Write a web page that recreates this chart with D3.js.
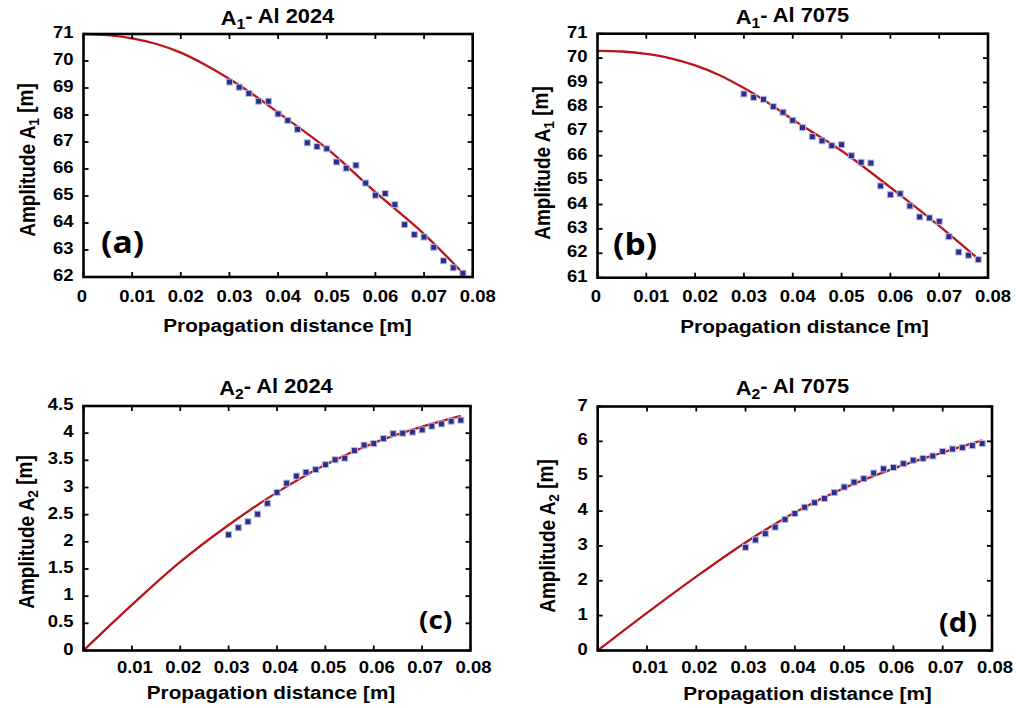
<!DOCTYPE html>
<html>
<head>
<meta charset="utf-8">
<script src="https://cdn.jsdelivr.net/npm/d3@7"></script>
<style>
  body { margin: 0; background: #fff; }
  text { font-family: "Liberation Sans", Arial, Helvetica, sans-serif; font-weight: bold; fill: #000; }
  .tag { font-family: "Open Sans", "Liberation Sans", sans-serif; font-weight: 700; }
</style>
</head>
<body>
<svg id="chart" width="1016" height="708"></svg>
<script>
// Measurement positions along the specimen (m)
const distance = [0.030, 0.032, 0.034, 0.036, 0.038, 0.040, 0.042, 0.044, 0.046, 0.048,
                  0.050, 0.052, 0.054, 0.056, 0.058, 0.060, 0.062, 0.064, 0.066, 0.068,
                  0.070, 0.072, 0.074, 0.076, 0.078];

// Measured amplitudes
const a1Al2024 = [69.22, 69.03, 68.80, 68.51, 68.51, 68.04, 67.80, 67.47, 66.97, 66.83,
                  66.75, 66.26, 66.03, 66.14, 65.48, 65.03, 65.09, 64.68, 63.94, 63.57,
                  63.48, 63.10, 62.60, 62.34, 62.14];
const a1Al7075 = [68.53, 68.39, 68.31, 68.01, 67.78, 67.45, 67.15, 66.78, 66.61, 66.41,
                  66.45, 66.00, 65.73, 65.70, 64.76, 64.40, 64.44, 63.94, 63.49, 63.45,
                  63.31, 62.68, 62.05, 61.92, 61.74];
const a2Al2024 = [2.13, 2.26, 2.37, 2.51, 2.71, 2.91, 3.08, 3.21, 3.28, 3.33,
                  3.42, 3.51, 3.54, 3.68, 3.78, 3.81, 3.90, 3.99, 4.00, 4.02,
                  4.06, 4.13, 4.17, 4.22, 4.24];
const a2Al7075 = [2.96, 3.17, 3.35, 3.54, 3.76, 3.93, 4.11, 4.24, 4.36, 4.53,
                  4.69, 4.83, 4.93, 5.09, 5.21, 5.25, 5.36, 5.46, 5.51, 5.58,
                  5.71, 5.78, 5.82, 5.88, 5.94];

// Fitted model curves
const fitA1Al2024X = [0, 0.005, 0.01, 0.015, 0.02, 0.025, 0.03, 0.035, 0.04, 0.05, 0.06, 0.07, 0.078];
const fitA1Al2024Y = [71, 70.96, 70.84, 70.63, 70.31, 69.86, 69.33, 68.74, 68.09, 66.76, 65.14, 63.59, 62.14];
const fitA1Al7075X = [0, 0.005, 0.01, 0.015, 0.02, 0.025, 0.03, 0.035, 0.04, 0.05, 0.06, 0.07, 0.078];
const fitA1Al7075Y = [70.30, 70.27, 70.17, 69.99, 69.70, 69.30, 68.77, 68.16, 67.48, 66.20, 64.70, 63.12, 61.77];
const fitA2Al2024X = [0, 0.01, 0.02, 0.03, 0.04, 0.05, 0.06, 0.07, 0.078];
const fitA2Al2024Y = [0, 0.84, 1.63, 2.31, 2.91, 3.42, 3.82, 4.12, 4.32];
const fitA2Al7075X = [0, 0.01, 0.02, 0.03, 0.04, 0.05, 0.06, 0.07, 0.078];
const fitA2Al7075Y = [0, 1.08, 2.12, 3.10, 3.96, 4.66, 5.22, 5.68, 6.03];

// Tick values and labels
const xTicks = [0, 0.01, 0.02, 0.03, 0.04, 0.05, 0.06, 0.07, 0.08];
const xTickLabelsFull = ["0", "0.01", "0.02", "0.03", "0.04", "0.05", "0.06", "0.07", "0.08"];
const xTickLabelsNoZero = ["", "0.01", "0.02", "0.03", "0.04", "0.05", "0.06", "0.07", "0.08"];
const yTicksA1Al2024 = [62, 63, 64, 65, 66, 67, 68, 69, 70, 71];
const yTicksA1Al7075 = [61, 62, 63, 64, 65, 66, 67, 68, 69, 70, 71];
const yTicksA2Al2024 = [0, 0.5, 1, 1.5, 2, 2.5, 3, 3.5, 4, 4.5];
const yTicksA2Al7075 = [0, 1, 2, 3, 4, 5, 6, 7];

const xLabel = "Propagation distance [m]";

const SX = 1.12; // horizontal stretch applied to all lettering
const svg = d3.select("#chart");

function label(parent, x, y, size, anchor, rotate) {
  return parent.append("text")
    .attr("transform", `translate(${x},${y}) scale(${SX},1)` + (rotate ? ` rotate(${rotate})` : ""))
    .attr("text-anchor", anchor)
    .style("font-size", size + "px");
}

function withSub(t, main, sub, rest) {
  t.append("tspan").text(main);
  t.append("tspan").text(sub).style("font-size", "0.72em").attr("dy", "0.28em");
  t.append("tspan").text(rest).attr("dy", "-0.28em");
}

function drawPanel(p) {
  const g = svg.append("g");
  const x = d3.scaleLinear().domain([0, 0.08]).range([p.left, p.right]);
  const y = d3.scaleLinear().domain([p.yTicks[0], p.yTicks[p.yTicks.length - 1]]).range([p.bottom, p.top]);

  // fitted curve
  const fit = p.fitX.map((d, i) => [d, p.fitY[i]]);
  g.append("path")
    .datum(fit)
    .attr("fill", "none")
    .attr("stroke", "#b8141c")
    .attr("stroke-width", 2.3)
    .attr("d", d3.line().x(d => x(d[0])).y(d => y(d[1])).curve(d3.curveCatmullRom.alpha(0.5)));

  // measured points
  g.selectAll("rect.pt")
    .data(distance.map((d, i) => [d, p.values[i]]))
    .join("rect")
    .attr("class", "pt")
    .attr("x", d => x(d[0]) - 3)
    .attr("y", d => y(d[1]) - 3)
    .attr("width", 6)
    .attr("height", 6)
    .attr("fill", "#2c2e8c")
    .attr("stroke", "#b9bade")
    .attr("stroke-width", 1);

  // inward ticks on all four sides
  const tk = g.append("g").attr("stroke", "#000").attr("stroke-width", 1.8);
  xTicks.forEach(t => {
    tk.append("line").attr("x1", x(t)).attr("x2", x(t)).attr("y1", p.bottom).attr("y2", p.bottom - 5);
    tk.append("line").attr("x1", x(t)).attr("x2", x(t)).attr("y1", p.top).attr("y2", p.top + 5);
  });
  p.yTicks.forEach(t => {
    tk.append("line").attr("y1", y(t)).attr("y2", y(t)).attr("x1", p.left).attr("x2", p.left + 5);
    tk.append("line").attr("y1", y(t)).attr("y2", y(t)).attr("x1", p.right).attr("x2", p.right - 5);
  });

  // frame
  g.append("rect")
    .attr("x", p.left).attr("y", p.top)
    .attr("width", p.right - p.left).attr("height", p.bottom - p.top)
    .attr("fill", "none").attr("stroke", "#000").attr("stroke-width", 2.6);

  // tick labels
  xTicks.forEach((t, i) => {
    const s = p.xTickLabels[i];
    if (!s) return;
    const dx = t === 0 ? -1.5 : p.xLabelShift;
    label(g, x(t) + dx, p.bottom + p.xTickGap, 16.5, "middle").text(s);
  });
  p.yTicks.forEach((t, i) => {
    label(g, p.left - 10, y(t) + 4, 16.5, "end").text(p.yTickLabels[i]);
  });

  // axis titles
  label(g, p.xTitle[0], p.xTitle[1], 18.5, "middle").text(xLabel);
  withSub(label(g, p.yTitle[0], p.yTitle[1], 19, "middle", -90), "Amplitude A", p.sub, " [m]");

  // panel title
  withSub(label(g, p.title[0], p.title[1], 19.5, "middle"), "A", p.sub, "- Al " + p.alloy);

  // panel tag
  label(g, p.tag[0], p.tag[1], p.tagSize, "start").attr("class", "tag").text(p.tagText);
}

const fmt = v => String(v);

drawPanel({
  left: 83.5, right: 472.7, top: 34, bottom: 277,
  yTicks: yTicksA1Al2024, yTickLabels: yTicksA1Al2024.map(fmt),
  xTickLabels: xTickLabelsFull, xTickGap: 24.5, xLabelShift: 5,
  values: a1Al2024, fitX: fitA1Al2024X, fitY: fitA1Al2024Y,
  sub: "1", alloy: "2024",
  title: [277.5, 25], xTitle: [287.5, 331.5], yTitle: [35, 160],
  tag: [101, 253], tagSize: 30, tagText: "(a)"
});
drawPanel({
  left: 597.5, right: 988, top: 33.7, bottom: 277.7,
  yTicks: yTicksA1Al7075, yTickLabels: yTicksA1Al7075.map(fmt),
  xTickLabels: xTickLabelsFull, xTickGap: 24.5, xLabelShift: 5,
  values: a1Al7075, fitX: fitA1Al7075X, fitY: fitA1Al7075Y,
  sub: "1", alloy: "7075",
  title: [792.5, 24], xTitle: [804.5, 332.5], yTitle: [549.5, 163],
  tag: [613, 255], tagSize: 30, tagText: "(b)"
});
drawPanel({
  left: 83.5, right: 470.5, top: 406, bottom: 650.5,
  yTicks: yTicksA2Al2024, yTickLabels: yTicksA2Al2024.map(fmt),
  xTickLabels: xTickLabelsNoZero, xTickGap: 22.8, xLabelShift: 3,
  values: a2Al2024, fitX: fitA2Al2024X, fitY: fitA2Al2024Y,
  sub: "2", alloy: "2024",
  title: [276, 395], xTitle: [271, 699], yTitle: [33.5, 532],
  tag: [419, 629], tagSize: 25, tagText: "(c)"
});
drawPanel({
  left: 597.7, right: 992, top: 406.5, bottom: 650.5,
  yTicks: yTicksA2Al7075, yTickLabels: yTicksA2Al7075.map(fmt),
  xTickLabels: xTickLabelsNoZero, xTickGap: 22.8, xLabelShift: 3,
  values: a2Al7075, fitX: fitA2Al7075X, fitY: fitA2Al7075Y,
  sub: "2", alloy: "7075",
  title: [792.5, 395], xTitle: [807.5, 700], yTitle: [554.5, 536],
  tag: [939, 632], tagSize: 26, tagText: "(d)"
});
</script>
</body>
</html>
